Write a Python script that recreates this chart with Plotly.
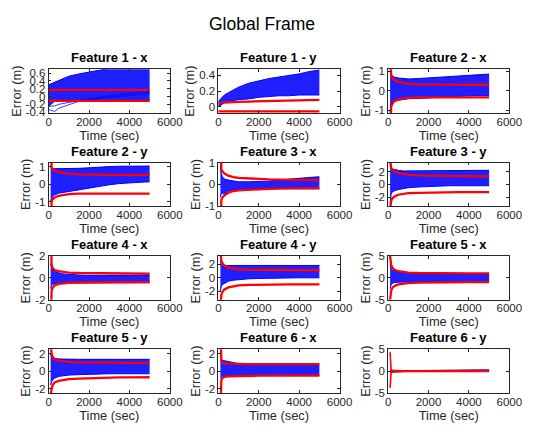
import plotly.graph_objects as go

# ---------------- data ----------------
titles = ["Feature 1 - x", "Feature 1 - y", "Feature 2 - x",
          "Feature 2 - y", "Feature 3 - x", "Feature 3 - y",
          "Feature 4 - x", "Feature 4 - y", "Feature 5 - x",
          "Feature 5 - y", "Feature 6 - x", "Feature 6 - y"]

x_ticks = [0, 2000, 4000, 6000]

t_f1 = [0, 100, 200, 300, 500, 750, 1000, 1500, 2000, 2500, 3000, 3500, 4000, 4500, 5000]
t = [100, 120, 150, 200, 300, 500, 750, 1000, 1500, 2000, 2500, 3000, 3500, 4000, 4500, 5000]

# Feature 1 - x
f1x_blue_hi = [0.3, 0.32, 0.35, 0.38, 0.42, 0.47, 0.52, 0.58, 0.63, 0.68, 0.72, 0.75, 0.78, 0.78, 0.78]
f1x_blue_lo = [-0.25, -0.2, -0.15, -0.12, -0.1, -0.1, -0.1, -0.1, -0.1, -0.1, -0.1, -0.1, -0.1, -0.1, -0.1]
f1x_red_hi = [0.17] * 15
f1x_red_lo = [-0.11] * 15
f1x_out_t = [0, 300, 500, 1000, 1500, 2000, 3000, 4000, 5000]
f1x_out1 = [-0.33, -0.38, -0.3, -0.2, -0.12, -0.08, -0.02, 0.03, 0.08]
f1x_out2 = [-0.25, -0.24, -0.2, -0.15, -0.1, -0.05, 0.02, 0.08, 0.12]

# Feature 1 - y
f1y_blue_hi = [0.07, 0.1, 0.13, 0.15, 0.18, 0.22, 0.25, 0.3, 0.33, 0.36, 0.38, 0.4, 0.42, 0.45, 0.47]
f1y_blue_lo = [0.0, 0.02, 0.04, 0.05, 0.07, 0.08, 0.09, 0.1, 0.12, 0.13, 0.14, 0.14, 0.15, 0.15, 0.15]
f1y_red_hi = [0.05, 0.052, 0.053, 0.055, 0.057, 0.06, 0.062, 0.066, 0.07, 0.074, 0.077, 0.08, 0.083, 0.085, 0.087]
f1y_red_lo = [-0.06] * 15

# Feature 2 - x
f2x_blue_hi = [1.1, 0.9, 0.8, 0.75, 0.7, 0.65, 0.62, 0.6, 0.62, 0.65, 0.68, 0.72, 0.76, 0.8, 0.83, 0.85]
f2x_blue_lo = [-1.1, -0.9, -0.7, -0.6, -0.55, -0.5, -0.45, -0.42, -0.4, -0.37, -0.33, -0.3, -0.28, -0.27, -0.26, -0.26]
f2x_red_hi = [3.0, 1.0, 0.85, 0.7, 0.55, 0.45, 0.38, 0.35, 0.32, 0.31, 0.3, 0.3, 0.3, 0.3, 0.3, 0.3]
f2x_red_lo = [-3.0, -1.0, -0.85, -0.7, -0.55, -0.45, -0.4, -0.37, -0.35, -0.35, -0.35, -0.35, -0.35, -0.35, -0.35, -0.35]

# Feature 2 - y
f2y_blue_hi = [1.1, 1.0, 0.95, 0.9, 0.9, 0.9, 0.9, 0.9, 0.92, 0.95, 1.0, 1.02, 1.04, 1.05, 1.05, 1.05]
f2y_blue_lo = [-1.0, -0.9, -0.8, -0.7, -0.6, -0.5, -0.45, -0.4, -0.3, -0.2, -0.1, -0.02, 0.05, 0.1, 0.12, 0.15]
f2y_red_hi = [3.0, 1.0, 0.95, 0.9, 0.8, 0.7, 0.65, 0.62, 0.58, 0.56, 0.55, 0.55, 0.55, 0.55, 0.55, 0.55]
f2y_red_lo = [-3.0, -1.0, -0.95, -0.85, -0.75, -0.65, -0.6, -0.55, -0.53, -0.52, -0.52, -0.52, -0.52, -0.52, -0.52, -0.52]

# Feature 3 - x
f3x_blue_hi = [0.9, 0.7, 0.5, 0.35, 0.25, 0.2, 0.15, 0.12, 0.12, 0.12, 0.15, 0.2, 0.25, 0.3, 0.32, 0.35]
f3x_blue_lo = [-0.6, -0.5, -0.4, -0.4, -0.45, -0.3, -0.25, -0.22, -0.2, -0.18, -0.17, -0.17, -0.18, -0.2, -0.2, -0.2]
f3x_red_hi = [3.0, 0.8, 0.7, 0.6, 0.5, 0.4, 0.33, 0.3, 0.27, 0.25, 0.23, 0.22, 0.21, 0.2, 0.2, 0.2]
f3x_red_lo = [-3.0, -0.8, -0.7, -0.6, -0.5, -0.38, -0.3, -0.27, -0.24, -0.22, -0.2, -0.19, -0.18, -0.18, -0.17, -0.17]

# Feature 3 - y
f3y_blue_hi = [3.0, 2.8, 2.6, 2.4, 2.3, 2.2, 2.1, 2.1, 2.1, 2.1, 2.15, 2.2, 2.2, 2.2, 2.2, 2.2]
f3y_blue_lo = [-3.0, -2.0, -1.5, -1.2, -1.0, -0.8, -0.6, -0.5, -0.4, -0.3, -0.25, -0.2, -0.2, -0.2, -0.2, -0.2]
f3y_red_hi = [4.0, 3.0, 2.6, 2.3, 2.0, 1.8, 1.6, 1.5, 1.4, 1.35, 1.3, 1.3, 1.28, 1.27, 1.26, 1.25]
f3y_red_lo = [-4.0, -3.0, -2.6, -2.2, -1.9, -1.6, -1.45, -1.35, -1.3, -1.25, -1.2, -1.2, -1.2, -1.2, -1.2, -1.2]

# Feature 4 - x
f4x_blue_hi = [1.3, 1.2, 1.0, 0.8, 0.6, 0.45, 0.35, 0.3, 0.25, 0.22, 0.2, 0.2, 0.2, 0.2, 0.2, 0.2]
f4x_blue_lo = [-1.0, -0.8, -0.7, -0.6, -0.55, -0.5, -0.48, -0.47, -0.45, -0.45, -0.45, -0.45, -0.45, -0.45, -0.45, -0.45]
f4x_red_hi = [5.0, 1.5, 1.2, 0.9, 0.7, 0.6, 0.52, 0.48, 0.44, 0.42, 0.4, 0.4, 0.38, 0.38, 0.37, 0.37]
f4x_red_lo = [-5.0, -1.5, -1.2, -0.9, -0.7, -0.55, -0.5, -0.46, -0.43, -0.42, -0.41, -0.4, -0.4, -0.4, -0.4, -0.4]

# Feature 4 - y
f4y_blue_hi = [2.5, 2.2, 2.0, 1.9, 1.8, 1.8, 1.8, 1.8, 1.8, 1.8, 1.8, 1.8, 1.8, 1.8, 1.8, 1.8]
f4y_blue_lo = [-2.0, -1.5, -1.2, -1.0, -0.8, -0.5, -0.35, -0.25, -0.15, -0.1, -0.05, 0.0, 0.0, 0.0, 0.0, 0.0]
f4y_red_hi = [4.0, 3.0, 2.5, 2.1, 1.8, 1.5, 1.35, 1.25, 1.18, 1.15, 1.12, 1.1, 1.1, 1.1, 1.1, 1.1]
f4y_red_lo = [-4.0, -3.0, -2.5, -2.1, -1.7, -1.4, -1.2, -1.1, -1.05, -1.0, -0.98, -0.96, -0.95, -0.95, -0.95, -0.95]

# Feature 5 - x
f5x_blue_hi = [3.0, 2.5, 2.0, 1.8, 1.6, 1.3, 1.1, 1.0, 0.9, 0.85, 0.8, 0.8, 0.8, 0.8, 0.8, 0.8]
f5x_blue_lo = [-2.5, -2.0, -1.6, -1.3, -1.1, -1.0, -0.95, -0.9, -0.9, -0.9, -0.85, -0.85, -0.85, -0.85, -0.85, -0.85]
f5x_red_hi = [5.0, 3.6, 3.0, 2.4, 1.9, 1.5, 1.3, 1.2, 1.1, 1.05, 1.0, 1.0, 1.0, 1.0, 1.0, 1.0]
f5x_red_lo = [-5.0, -3.6, -3.0, -2.4, -1.9, -1.5, -1.3, -1.2, -1.1, -1.05, -1.0, -1.0, -1.0, -1.0, -1.0, -1.0]

# Feature 5 - y
f5y_blue_hi = [2.0, 1.8, 1.6, 1.5, 1.45, 1.4, 1.38, 1.35, 1.35, 1.35, 1.35, 1.35, 1.35, 1.35, 1.35, 1.35]
f5y_blue_lo = [-1.6, -1.4, -1.2, -1.0, -0.8, -0.6, -0.5, -0.45, -0.4, -0.35, -0.3, -0.3, -0.3, -0.3, -0.3, -0.3]
f5y_red_hi = [3.0, 2.5, 2.0, 1.6, 1.35, 1.2, 1.1, 1.05, 1.0, 0.98, 0.96, 0.95, 0.95, 0.95, 0.95, 0.95]
f5y_red_lo = [-3.0, -2.5, -2.0, -1.6, -1.3, -1.1, -1.0, -0.9, -0.85, -0.8, -0.78, -0.75, -0.72, -0.72, -0.7, -0.7]

# Feature 6 - x
f6x_blue_hi = [1.3, 1.3, 1.3, 1.25, 1.2, 1.1, 0.95, 0.85, 0.8, 0.78, 0.78, 0.78, 0.78, 0.78, 0.78, 0.78]
f6x_blue_lo = [-0.8, -0.7, -0.65, -0.6, -0.58, -0.55, -0.55, -0.52, -0.5, -0.5, -0.5, -0.5, -0.5, -0.5, -0.5, -0.5]
f6x_red_hi = [5.0, 2.5, 1.2, 1.0, 0.9, 0.85, 0.82, 0.8, 0.8, 0.8, 0.8, 0.8, 0.8, 0.8, 0.8, 0.8]
f6x_red_lo = [-5.0, -2.5, -1.0, -0.8, -0.65, -0.6, -0.58, -0.55, -0.55, -0.52, -0.52, -0.5, -0.5, -0.5, -0.5, -0.5]

# Feature 6 - y
f6y_blue_hi = [0.4, 0.3, 0.25, 0.2, 0.15, 0.1, 0.1, 0.1, 0.1, 0.12, 0.15, 0.2, 0.25, 0.28, 0.3, 0.3]
f6y_blue_lo = [-0.5, -0.4, -0.3, -0.25, -0.2, -0.15, -0.1, -0.08, -0.05, -0.05, -0.05, -0.02, 0.0, 0.0, 0.0, 0.0]
f6y_red_hi = [4.3, 0.5, 0.3, 0.2, 0.15, 0.12, 0.1, 0.1, 0.1, 0.1, 0.1, 0.1, 0.1, 0.1, 0.1, 0.1]
f6y_red_lo = [-3.8, -0.4, -0.2, -0.15, -0.12, -0.1, -0.08, -0.06, -0.05, -0.05, -0.05, -0.05, -0.05, -0.05, -0.05, -0.05]

y_ranges = [[-0.42, 0.7], [-0.08, 0.48], [-1.15, 1.1],
            [-1.25, 1.25], [-1.0, 1.0], [-3.4, 3.4],
            [-2.0, 2.0], [-3.2, 3.2], [-5.0, 5.0],
            [-2.5, 2.5], [-2.5, 2.5], [-5.0, 5.0]]
y_ticks = [[-0.4, -0.2, 0, 0.2, 0.4, 0.6], [0, 0.2, 0.4], [-1, 0, 1],
           [-1, 0, 1], [-1, 0, 1], [-2, 0, 2],
           [-2, 0, 2], [-2, 0, 2], [-5, 0, 5],
           [-2, 0, 2], [-2, 0, 2], [-5, 0, 5]]

panels = [
    (t_f1, f1x_blue_hi, f1x_blue_lo, f1x_red_hi, f1x_red_lo),
    (t_f1, f1y_blue_hi, f1y_blue_lo, f1y_red_hi, f1y_red_lo),
    (t, f2x_blue_hi, f2x_blue_lo, f2x_red_hi, f2x_red_lo),
    (t, f2y_blue_hi, f2y_blue_lo, f2y_red_hi, f2y_red_lo),
    (t, f3x_blue_hi, f3x_blue_lo, f3x_red_hi, f3x_red_lo),
    (t, f3y_blue_hi, f3y_blue_lo, f3y_red_hi, f3y_red_lo),
    (t, f4x_blue_hi, f4x_blue_lo, f4x_red_hi, f4x_red_lo),
    (t, f4y_blue_hi, f4y_blue_lo, f4y_red_hi, f4y_red_lo),
    (t, f5x_blue_hi, f5x_blue_lo, f5x_red_hi, f5x_red_lo),
    (t, f5y_blue_hi, f5y_blue_lo, f5y_red_hi, f5y_red_lo),
    (t, f6x_blue_hi, f6x_blue_lo, f6x_red_hi, f6x_red_lo),
    (t, f6y_blue_hi, f6y_blue_lo, f6y_red_hi, f6y_red_lo),
]

# ---------------- layout ----------------
W, H = 533, 435
col_left = [47, 222, 397]
ax_w = 125
row_top = [65, 161, 257, 353]
ax_h = 45

BLUE = "#0000FF"
RED = "#FF0000"
TXT = "#262626"
FONT = "Liberation Sans, Arial, Helvetica"

fig = go.Figure()
annotations = []

for i, (tt, bhi, blo, rhi, rlo) in enumerate(panels):
    r, c = divmod(i, 3)
    n = i + 1
    xa = "x" if n == 1 else f"x{n}"
    ya = "y" if n == 1 else f"y{n}"

    fig.add_trace(go.Scatter(x=tt, y=bhi, mode="lines", line=dict(color=BLUE, width=1),
                             xaxis=xa, yaxis=ya, showlegend=False, hoverinfo="skip"))
    fig.add_trace(go.Scatter(x=tt, y=blo, mode="lines", line=dict(color=BLUE, width=1),
                             fill="tonexty", fillcolor="rgba(0,0,255,0.88)",
                             xaxis=xa, yaxis=ya, showlegend=False, hoverinfo="skip"))
    if i == 0:
        for out in (f1x_out1, f1x_out2):
            fig.add_trace(go.Scatter(x=f1x_out_t, y=out, mode="lines",
                                     line=dict(color=BLUE, width=0.8),
                                     xaxis=xa, yaxis=ya, showlegend=False, hoverinfo="skip"))
    red_w = 1.6 if i == 11 else 2.3
    for rr in (rhi, rlo):
        fig.add_trace(go.Scatter(x=tt, y=rr, mode="lines", line=dict(color=RED, width=red_w),
                                 xaxis=xa, yaxis=ya, showlegend=False, hoverinfo="skip"))

    x0 = col_left[c] / W
    x1 = (col_left[c] + ax_w) / W
    y1 = 1 - row_top[r] / H
    y0 = 1 - (row_top[r] + ax_h) / H

    axis_common = dict(showline=True, linecolor=TXT, linewidth=0.8, mirror="ticks",
                       ticks="inside", ticklen=3, tickcolor=TXT, tickwidth=0.8,
                       showgrid=False, zeroline=False,
                       tickfont=dict(family=FONT, size=11.5, color=TXT))
    fig.layout[f"xaxis{'' if n == 1 else n}"] = dict(
        domain=[x0, x1], anchor=ya, range=[0, 6000], tickvals=x_ticks,
        ticktext=[str(v) for v in x_ticks], ticklabelstandoff=-2,
        title=dict(text="Time (sec)", standoff=2,
                   font=dict(family=FONT, size=12.8, color=TXT)),
        **axis_common)
    fig.layout[f"yaxis{'' if n == 1 else n}"] = dict(
        domain=[y0, y1], anchor=xa, range=y_ranges[i], tickvals=y_ticks[i],
        ticktext=[f"{v:g}" for v in y_ticks[i]],
        title=dict(text="Error (m)", standoff=1,
                   font=dict(family=FONT, size=12.8, color=TXT)),
        **axis_common)

    annotations.append(dict(text=f"<b>{titles[i]}</b>", xref="paper", yref="paper",
                            x=(x0 + x1) / 2, y=y1 + 2 / H, xanchor="center", yanchor="bottom",
                            showarrow=False,
                            font=dict(family=FONT, size=13, color="black")))

annotations.append(dict(text="Global Frame", xref="paper", yref="paper",
                        x=0.5, y=1 - 18 / H, xanchor="center", yanchor="middle", showarrow=False,
                        font=dict(family=FONT, size=17.5, color="black")))

fig.update_layout(width=W, height=H, margin=dict(l=0, r=0, t=0, b=0),
                  paper_bgcolor="white", plot_bgcolor="white",
                  annotations=annotations)

fig.write_html("out.html", config={"displayModeBar": False},
               post_script="document.body.style.margin='0';document.body.style.overflow='hidden';")
